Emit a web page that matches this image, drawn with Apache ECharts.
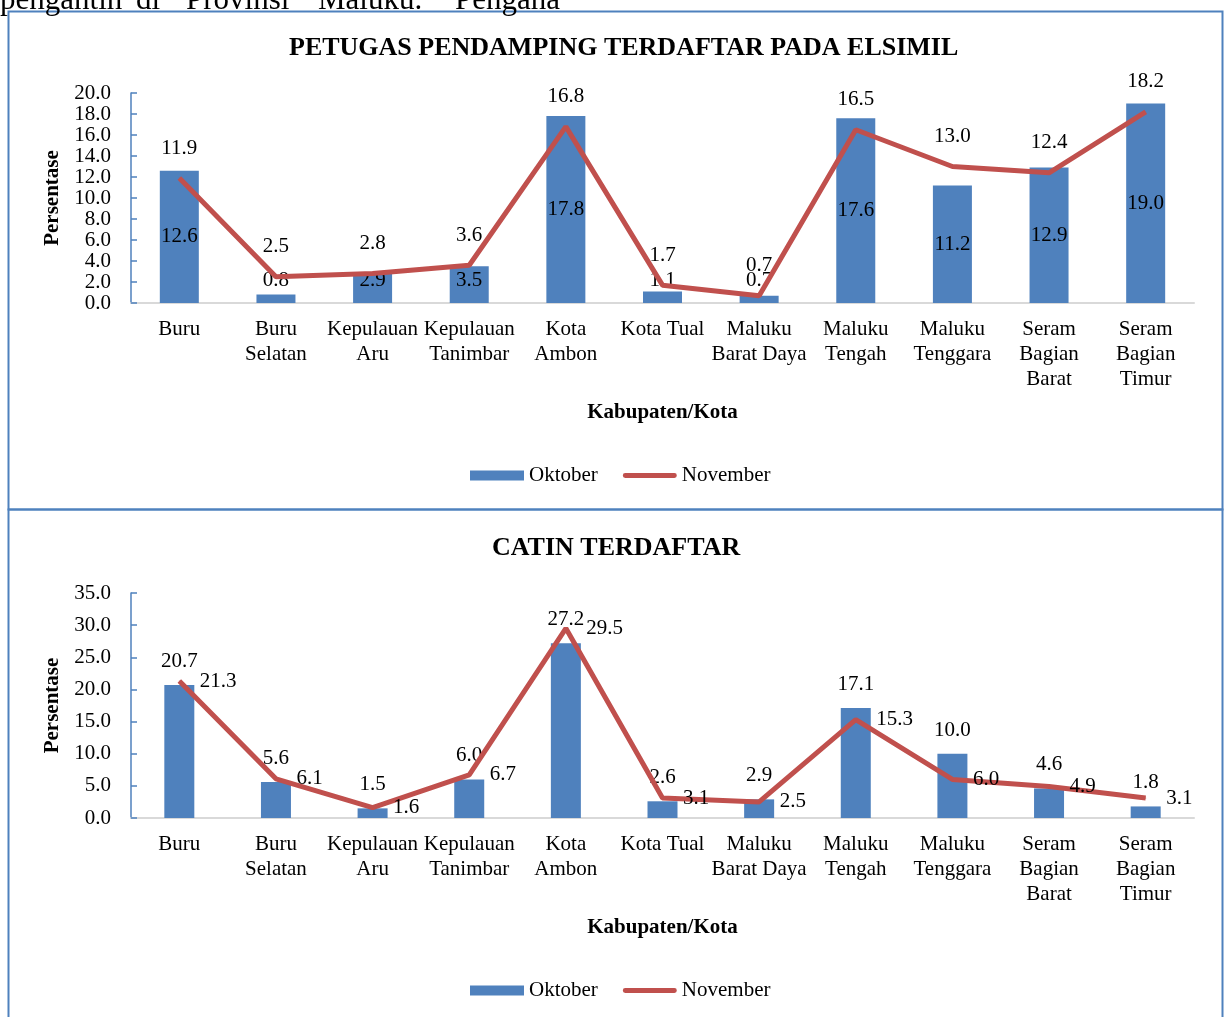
<!DOCTYPE html>
<html>
<head>
<meta charset="utf-8">
<script src="https://cdn.jsdelivr.net/npm/echarts@6/dist/echarts.min.js"></script>
<style>
html,body{margin:0;padding:0;background:#fff;}
#c{width:1224px;height:1017px;}
</style>
</head>
<body>
<div id="c"></div>
<script>
// ---- data ----
const categories = ['Buru','Buru\nSelatan','Kepulauan\nAru','Kepulauan\nTanimbar','Kota\nAmbon','Kota Tual','Maluku\nBarat Daya','Maluku\nTengah','Maluku\nTenggara','Seram\nBagian\nBarat','Seram\nBagian\nTimur'];
const petugasOktober  = [12.6, 0.8, 2.9, 3.5, 17.8, 1.1, 0.7, 17.6, 11.2, 12.9, 19.0];
const petugasNovember = [11.9, 2.5, 2.8, 3.6, 16.8, 1.7, 0.7, 16.5, 13.0, 12.4, 18.2];
const catinOktober    = [20.7, 5.6, 1.5, 6.0, 27.2, 2.6, 2.9, 17.1, 10.0, 4.6, 1.8];
const catinNovember   = [21.3, 6.1, 1.6, 6.7, 29.5, 3.1, 2.5, 15.3, 6.0, 4.9, 3.1];
const seriesNames = ['Oktober', 'November'];
const chartTitles = ['PETUGAS PENDAMPING TERDAFTAR PADA ELSIMIL', 'CATIN TERDAFTAR'];
const yAxisName = 'Persentase';
const xAxisName = 'Kabupaten/Kota';
const topWords = ['pengantin', 'di', 'Provinsi', 'Maluku.', 'Pengana'];

// ---- styles ----
const FONT = '"Liberation Serif", "Times New Roman", serif';
const BLUE = '#4F81BD';
const RED = '#C0504D';
const fmt = p => Number(p.value).toFixed(1);
const baseText = {fontFamily: FONT, fontSize: 21, color: '#000'};

const chart = echarts.init(document.getElementById('c'), null, {renderer: 'canvas'});

const wordX = [0, 136, 186, 318, 455];

function xAxisCfg(gridIndex) {
  return {
    type: 'category', gridIndex, data: categories,
    name: xAxisName, nameLocation: 'middle', nameGap: 99,
    nameTextStyle: Object.assign({}, baseText, {fontWeight: 'bold'}),
    axisLine: {show: true, lineStyle: {color: '#D9D9D9', width: 2}},
    axisTick: {show: false},
    axisLabel: Object.assign({}, baseText, {margin: 14, lineHeight: 25, interval: 0}),
    splitLine: {show: false}
  };
}
function yAxisCfg(gridIndex, max, interval) {
  return {
    type: 'value', gridIndex, min: 0, max, interval,
    name: yAxisName, nameLocation: 'middle', nameGap: 61,
    nameTextStyle: Object.assign({}, baseText, {fontWeight: 'bold'}),
    axisLine: {show: true, lineStyle: {color: BLUE, width: 1.5}},
    axisTick: {show: true, inside: true, length: 6, lineStyle: {color: BLUE, width: 1.5}},
    axisLabel: Object.assign({}, baseText, {margin: 20, formatter: v => v.toFixed(1)}),
    splitLine: {show: false}
  };
}
function legendCfg(top) {
  return {
    left: 470, top, itemWidth: 54, itemHeight: 10, itemGap: 25, padding: 0,
    textStyle: baseText,
    data: [
      {name: seriesNames[0], icon: 'rect'},
      {name: seriesNames[1], icon: 'path://M2.5,0 L53.5,0 A2.5,2.5 0 0 1 53.5,5 L2.5,5 A2.5,2.5 0 0 1 2.5,0 Z'}
    ]
  };
}

const option = {
  backgroundColor: '#fff',
  animation: false,
  title: [
    {text: chartTitles[0], left: 289, top: 35, padding: 0,
     textStyle: {fontFamily: FONT, fontSize: 26, fontWeight: 'bold', color: '#000'}},
    {text: chartTitles[1], left: 492, top: 535, padding: 0,
     textStyle: {fontFamily: FONT, fontSize: 26, fontWeight: 'bold', color: '#000'}}
  ],
  legend: [legendCfg(465), legendCfg(980)],
  grid: [
    {left: 131, right: 30, top: 93, height: 210},
    {left: 131, right: 30, top: 593, height: 225}
  ],
  xAxis: [xAxisCfg(0), xAxisCfg(1)],
  yAxis: [yAxisCfg(0, 20, 2), yAxisCfg(1, 35, 5)],
  series: [
    {name: seriesNames[0], type: 'bar', xAxisIndex: 0, yAxisIndex: 0, data: petugasOktober,
     barWidth: 39, itemStyle: {color: BLUE},
     label: Object.assign({show: true, position: 'inside', formatter: fmt}, baseText),
     labelLayout: function (p) {
       const cy = p.labelRect.y + p.labelRect.height / 2;
       return cy > 280 ? {dy: 280 - cy} : {};
     }},
    {name: seriesNames[1], type: 'line', xAxisIndex: 0, yAxisIndex: 0, data: petugasNovember,
     symbol: 'circle', symbolSize: 1, itemStyle: {color: RED}, lineStyle: {color: RED, width: 5},
     label: Object.assign({show: true, position: 'top', distance: 19, formatter: fmt}, baseText)},
    {name: seriesNames[0], type: 'bar', xAxisIndex: 1, yAxisIndex: 1, data: catinOktober,
     barWidth: 30, itemStyle: {color: BLUE},
     label: Object.assign({show: true, position: 'top', distance: 13, formatter: fmt}, baseText)},
    {name: seriesNames[1], type: 'line', xAxisIndex: 1, yAxisIndex: 1, data: catinNovember,
     symbol: 'circle', symbolSize: 1, itemStyle: {color: RED}, lineStyle: {color: RED, width: 5},
     label: Object.assign({show: true, position: 'right', distance: 20, formatter: fmt}, baseText)}
  ],
  graphic: [
    {type: 'rect', silent: true, z: -1, shape: {x: 8.5, y: 11.5, width: 1214, height: 498},
     style: {fill: 'none', stroke: BLUE, lineWidth: 2}},
    {type: 'rect', silent: true, z: -1, shape: {x: 8.5, y: 509.5, width: 1214, height: 520},
     style: {fill: 'none', stroke: BLUE, lineWidth: 2}}
  ].concat(topWords.map((w, i) => ({
    type: 'text', silent: true, x: wordX[i], y: 0.5,
    style: {text: w, fontFamily: FONT, fontSize: 31, fill: '#000', verticalAlign: 'middle', textAlign: 'left'}
  })))
};
chart.setOption(option);
</script>
</body>
</html>
